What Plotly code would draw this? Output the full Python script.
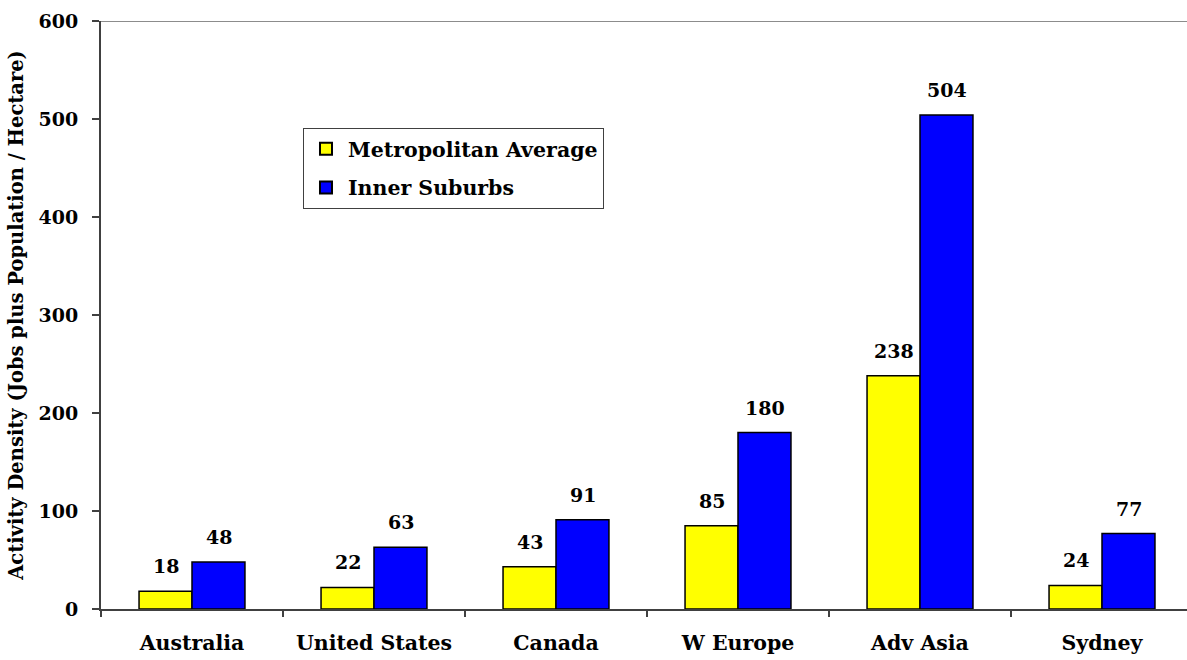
import plotly.graph_objects as go

# Activity density by region
regions = ["Australia", "United States", "Canada", "W Europe", "Adv Asia", "Sydney"]
metro_avg = [18, 22, 43, 85, 238, 24]
inner_suburbs = [48, 63, 91, 180, 504, 77]
y_ticks = [0, 100, 200, 300, 400, 500, 600]

FONT = "DejaVu Serif"
AXIS_COLOR = "#404040"


def bold_font(size):
    return dict(family=FONT, size=size, color="#000000", weight="bold")


fig = go.Figure()
fig.add_trace(go.Bar(
    name="Metropolitan Average", x=regions, y=metro_avg, legendgroup="a",
    marker=dict(color="#FFFF00", line=dict(color="#000000", width=1.5)),
))
fig.add_trace(go.Bar(
    name="Inner Suburbs", x=regions, y=inner_suburbs, legendgroup="b",
    marker=dict(color="#0000FF", line=dict(color="#000000", width=1.5)),
))

# value labels sitting a little above each bar
BAR_HALF = 26.5
for series, shift in ((metro_avg, -BAR_HALF), (inner_suburbs, BAR_HALF)):
    for cat, val in zip(regions, series):
        fig.add_annotation(
            x=cat, y=val, text=str(val), showarrow=False,
            xshift=shift, yshift=12, yanchor="bottom",
            font=bold_font(19),
        )

# thin grey rule along the top of the plot area
fig.add_shape(type="line", xref="paper", yref="y", x0=0, x1=1, y0=600, y1=600,
              line=dict(color="#8C8C8C", width=2))

fig.update_layout(
    width=1187, height=660,
    margin=dict(l=101, r=0, t=21, b=51),
    paper_bgcolor="white", plot_bgcolor="white",
    barmode="group", bargap=0.418, bargroupgap=0,
    font=bold_font(18),
    showlegend=True,
    legend=dict(
        x=0.186, y=0.818, xanchor="left", yanchor="top",
        bgcolor="white", bordercolor="#404040", borderwidth=1,
        font=bold_font(20.5),
        traceorder="grouped", tracegroupgap=9,
        itemsizing="constant", itemwidth=34,
    ),
    xaxis=dict(
        range=[-0.5, 5.467],
        showline=True, linecolor=AXIS_COLOR, linewidth=2,
        ticks="outside", tickson="boundaries", ticklen=6, tickcolor=AXIS_COLOR, tickwidth=1.5,
        tickfont=bold_font(20.5), ticklabelstandoff=14,
        showgrid=False, zeroline=False,
    ),
    yaxis=dict(
        range=[0, 600], tickvals=y_ticks,
        showline=True, linecolor=AXIS_COLOR, linewidth=2,
        ticks="outside", ticklen=7, tickcolor=AXIS_COLOR, tickwidth=1.5,
        tickfont=bold_font(19), ticklabelstandoff=10,
        showgrid=False, zeroline=False,
        title=dict(text="Activity Density (Jobs plus Population / Hectare)",
                   font=bold_font(19.5), standoff=10),
    ),
)

fig.write_html("out.html")
